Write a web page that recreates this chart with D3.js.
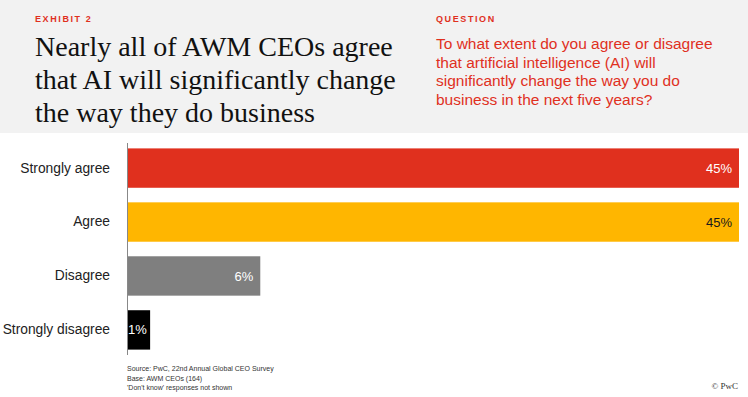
<!DOCTYPE html>
<html>
<head>
  <meta charset="utf-8">
  <title>Exhibit 2 - AWM CEOs and AI</title>
  <style>
    body { margin: 0; background: #fff; }
    svg { display: block; }
  </style>
  <script src="https://cdn.jsdelivr.net/npm/d3@7"></script>
</head>
<body>
<script>
// data
var categories = ["Strongly agree", "Agree", "Disagree", "Strongly disagree"];
// bar lengths as drawn in the source picture (the printed labels are rounded differently)
var barValues = [45, 45, 9.8, 1.7];
var valueLabels = ["45%", "45%", "6%", "1%"];
var barColors = ["#e0301e", "#ffb600", "#7f7f7f", "#000000"];
var labelColors = ["#ffffff", "#1a1a1a", "#ffffff", "#ffffff"];

var titleLines = ["Nearly all of AWM CEOs agree", "that AI will significantly change", "the way they do business"];
var questionLines = ["To what extent do you agree or disagree", "that artificial intelligence (AI) will",
                     "significantly change the way you do", "business in the next five years?"];
var notes = ["Source: PwC, 22nd Annual Global CEO Survey", "Base: AWM CEOs (164)", "'Don't know' responses not shown"];

var W = 748, H = 397;
var margin = {top: 143, right: 9, bottom: 42, left: 127};

var svg = d3.select("body").append("svg")
    .attr("width", W)
    .attr("height", H);

// header band
svg.append("rect")
    .attr("width", W).attr("height", 133)
    .attr("fill", "#f2f2f2");

svg.append("text")
    .attr("x", 35).attr("y", 22)
    .attr("fill", "#e0301e")
    .style("font", "bold 9px 'Liberation Sans', Arial, sans-serif")
    .style("letter-spacing", "1.6px")
    .text("EXHIBIT 2");

svg.append("text")
    .attr("x", 436).attr("y", 22)
    .attr("fill", "#e0301e")
    .style("font", "bold 9px 'Liberation Sans', Arial, sans-serif")
    .style("letter-spacing", "1.6px")
    .text("QUESTION");

svg.append("g").selectAll("text")
    .data(titleLines)
    .enter().append("text")
    .attr("x", 35)
    .attr("y", function(d, i) { return 56 + i * 33; })
    .attr("fill", "#111")
    .style("font", "28px 'Liberation Serif', 'Times New Roman', serif")
    .text(function(d) { return d; });

svg.append("g").selectAll("text")
    .data(questionLines)
    .enter().append("text")
    .attr("x", 436)
    .attr("y", function(d, i) { return 49 + i * 18.5; })
    .attr("fill", "#e0301e")
    .style("font", "15.5px 'Liberation Sans', Arial, sans-serif")
    .text(function(d) { return d; });

// scales
var x = d3.scaleLinear()
    .domain([0, 45])
    .range([margin.left, W - margin.right]);

var y = d3.scaleBand()
    .domain(categories)
    .range([margin.top, H - margin.bottom])
    .paddingInner(0.27)
    .paddingOuter(0.1);

// bars
svg.selectAll(".bar")
    .data(categories)
    .enter().append("rect")
    .attr("class", "bar")
    .attr("x", x(0))
    .attr("y", function(d) { return y(d); })
    .attr("width", function(d, i) { return x(barValues[i]) - x(0); })
    .attr("height", y.bandwidth())
    .attr("fill", function(d, i) { return barColors[i]; });

// value labels
svg.selectAll(".val")
    .data(categories)
    .enter().append("text")
    .attr("class", "val")
    .attr("x", function(d, i) {
        var w = x(barValues[i]) - x(0);
        return w < 40 ? x(0) + 1 : x(barValues[i]) - 7;
    })
    .attr("y", function(d) { return y(d) + y.bandwidth() / 2; })
    .attr("dy", "0.35em")
    .attr("text-anchor", function(d, i) { return (x(barValues[i]) - x(0)) < 40 ? "start" : "end"; })
    .attr("fill", function(d, i) { return labelColors[i]; })
    .style("font", "13px 'Liberation Sans', Arial, sans-serif")
    .text(function(d, i) { return valueLabels[i]; });

// category axis
var yAxis = svg.append("g")
    .attr("transform", "translate(" + margin.left + ",0)")
    .call(d3.axisLeft(y).tickSize(0).tickPadding(17));
yAxis.select(".domain").attr("stroke", "#888").attr("d", "M0.5," + (margin.top) + "V" + (H - margin.bottom));
yAxis.selectAll("text")
    .attr("fill", "#222")
    .style("font", "13.8px 'Liberation Sans', Arial, sans-serif");

// notes
svg.append("g").selectAll("text")
    .data(notes)
    .enter().append("text")
    .attr("x", 127)
    .attr("y", function(d, i) { return 371 + i * 9.5; })
    .attr("fill", "#333")
    .style("font", "7px 'Liberation Sans', Arial, sans-serif")
    .text(function(d) { return d; });

svg.append("text")
    .attr("x", 738).attr("y", 389)
    .attr("text-anchor", "end")
    .attr("fill", "#333")
    .style("font", "9px 'Liberation Serif', serif")
    .text("\u00a9 PwC");
</script>
</body>
</html>
